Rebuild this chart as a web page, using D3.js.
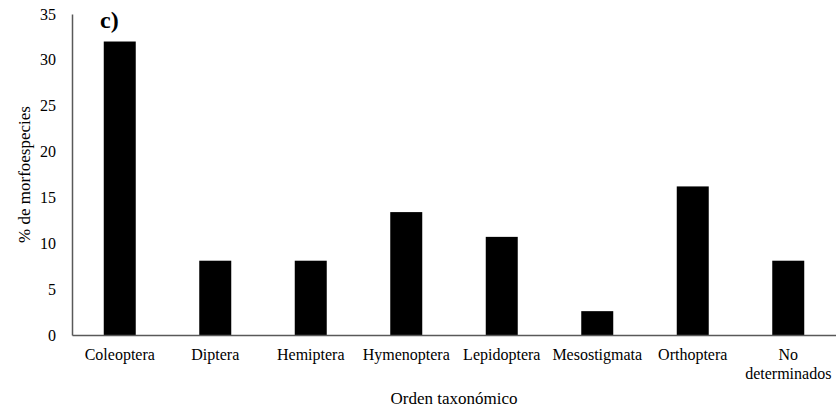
<!DOCTYPE html>
<html>
<head>
<meta charset="utf-8">
<script src="https://cdn.jsdelivr.net/npm/d3@7"></script>
<style>
  html, body { margin: 0; padding: 0; background: #fff; }
  svg { display: block; }
  text { font-family: "Liberation Serif", "Times New Roman", serif; fill: #000; }
</style>
</head>
<body>
<svg id="chart" width="836" height="413"></svg>
<script>
// Share of morphospecies per taxonomic order (%)
const categories = ["Coleoptera", "Diptera", "Hemiptera", "Hymenoptera", "Lepidoptera",
                    "Mesostigmata", "Orthoptera", "No determinados"];
const values = [32.0, 8.1, 8.1, 13.4, 10.7, 2.6, 16.2, 8.1];
const yTicks = [0, 5, 10, 15, 20, 25, 30, 35];

const serif = "'Liberation Serif', 'Times New Roman', serif";
const svg = d3.select("#chart");
const plotLeft = 72, plotRight = 836, plotTop = 14, plotBottom = 335;

const x = d3.scaleBand().domain(categories).range([plotLeft, plotRight]).paddingInner(0.665).paddingOuter(0.3325);
const y = d3.scaleLinear().domain([0, 35]).range([plotBottom, plotTop]);

// bars
svg.append("g").selectAll("rect")
  .data(categories.map((c, i) => ({ c, v: values[i] })))
  .join("rect")
  .attr("x", d => x(d.c))
  .attr("width", x.bandwidth())
  .attr("y", d => y(d.v))
  .attr("height", d => y(0) - y(d.v))
  .attr("fill", "#000");

// y axis (labels only, with a plain axis line)
const yAxis = svg.append("g")
  .attr("transform", `translate(${plotLeft},0)`)
  .call(d3.axisLeft(y).tickValues(yTicks).tickSize(0).tickPadding(16))
  .attr("font-family", serif).attr("font-size", 16);
yAxis.select(".domain").attr("stroke", "#595959").attr("stroke-width", 1.5);

// x axis
const xAxis = svg.append("g")
  .attr("transform", `translate(0,${plotBottom})`)
  .call(d3.axisBottom(x).tickSize(0).tickPadding(14))
  .attr("font-family", serif).attr("font-size", 16);
xAxis.select(".domain").attr("stroke", "#595959").attr("stroke-width", 1.5);
xAxis.selectAll("text")
  .each(function (d) {
    if (d === "No determinados") {
      const t = d3.select(this);
      const dy = t.attr("dy");
      t.text(null);
      t.append("tspan").attr("x", 0).attr("dy", dy).text("No");
      t.append("tspan").attr("x", 0).attr("dy", "1.15em").text("determinados");
    }
  });

// axis titles
svg.append("text")
  .attr("transform", `translate(30,${(plotTop + plotBottom) / 2}) rotate(-90)`)
  .attr("text-anchor", "middle")
  .style("font-size", "17px")
  .text("% de morfoespecies");

svg.append("text")
  .attr("x", (plotLeft + plotRight) / 2)
  .attr("y", 404)
  .attr("text-anchor", "middle")
  .style("font-size", "17px")
  .text("Orden taxonómico");

// panel label
svg.append("text")
  .attr("x", 100)
  .attr("y", 28)
  .style("font-size", "24px")
  .style("font-weight", "bold")
  .text("c)");
</script>
</body>
</html>
